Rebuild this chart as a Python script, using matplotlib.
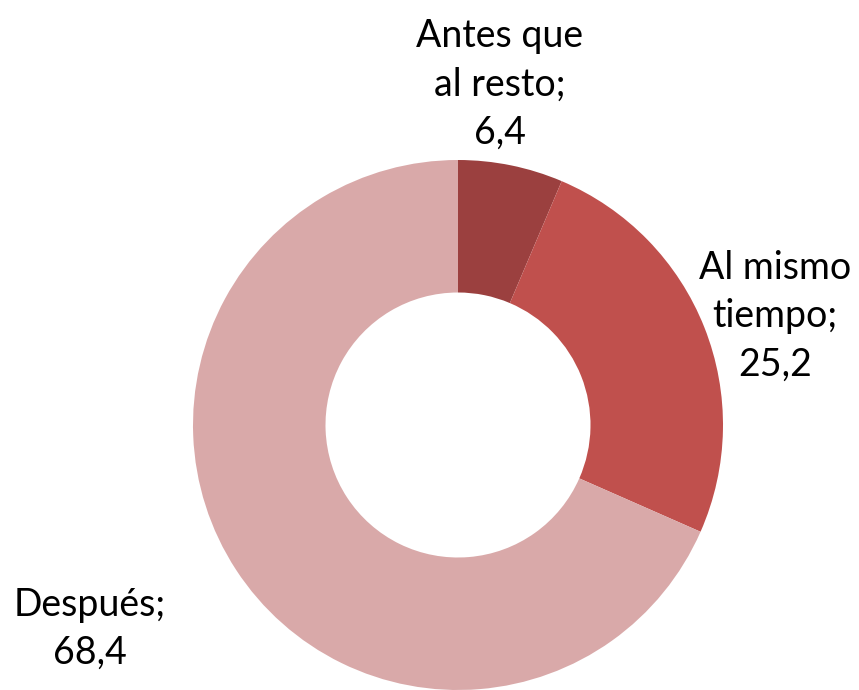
import matplotlib
matplotlib.use("Agg")
import matplotlib.pyplot as plt

categories = ["Antes que\nal resto", "Al mismo\ntiempo", "Después"]
values = [6.4, 25.2, 68.4]
value_labels = ["6,4", "25,2", "68,4"]
colors = ["#9B403F", "#C0504D", "#D9A9A9"]

fig = plt.figure(figsize=(8.59, 6.90), dpi=100)
ax = fig.add_axes([193/859, 0, 530/859, 530/690])
ax.pie(values, colors=colors, startangle=90, counterclock=False,
       radius=1, wedgeprops=dict(width=0.5, edgecolor="none"))
ax.set_xlim(-1, 1)
ax.set_ylim(-1, 1)
ax.set_aspect("equal")
ax.axis("off")

label_pos = [(0.158, 1.285), (1.196, 0.41), (-1.389, -0.77)]
for cat, vl, (x, y) in zip(categories, value_labels, label_pos):
    ax.text(x, y, f"{cat};\n{vl}", ha="center", va="center", multialignment="center",
            fontsize=27, family="Lato", linespacing=1.42, clip_on=False)

fig.savefig("out.png", dpi=100)
